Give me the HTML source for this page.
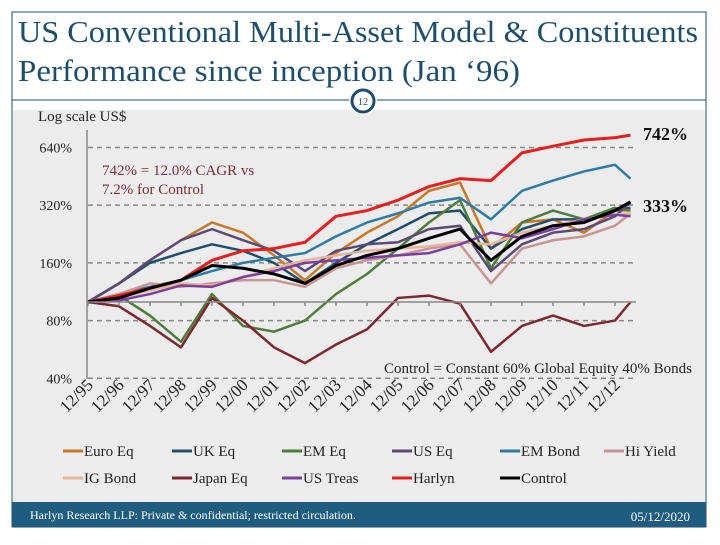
<!DOCTYPE html>
<html><head><meta charset="utf-8"><style>
body{margin:0;background:#fff;width:720px;height:540px;overflow:hidden;font-family:"Liberation Serif",serif}
</style></head><body>
<svg id="c" width="720" height="540" xmlns="http://www.w3.org/2000/svg">
<rect x="12" y="12" width="694" height="515" fill="#fff" stroke="#1F4E6B" stroke-width="1"/>
<text x="18" y="42" font-size="31" textLength="680" lengthAdjust="spacingAndGlyphs" fill="#1F4E6B">US Conventional Multi-Asset Model &amp; Constituents</text>
<text x="18" y="81" font-size="31" textLength="502" lengthAdjust="spacingAndGlyphs" fill="#1F4E6B">Performance since inception (Jan ‘96)</text>
<rect x="13" y="110" width="692" height="392" fill="#ECECEC"/>
<line x1="12" y1="100" x2="706" y2="100" stroke="#1F4E6B" stroke-width="1"/>
<circle cx="363" cy="101" r="14" fill="#fff"/>
<circle cx="363" cy="101" r="11" fill="#fff" stroke="#1F4E6B" stroke-width="3"/>
<text x="363" y="105" font-size="10" text-anchor="middle" fill="#1F4E6B">12</text>
<text x="38" y="121" font-size="15" fill="#222">Log scale US$</text>
<text x="102" y="175" font-size="15" fill="#7B2C3A">742% = 12.0% CAGR vs</text>
<text x="102" y="194" font-size="15" fill="#7B2C3A">7.2% for Control</text>
<text x="692" y="373" font-size="15" text-anchor="end" fill="#222">Control = Constant 60% Global Equity 40% Bonds</text>
<text x="643" y="140" font-size="18" font-weight="bold" fill="#111">742%</text>
<text x="643" y="212" font-size="18" font-weight="bold" fill="#111">333%</text>
<g id="grid"></g><g id="series"></g><g id="axis"></g><g id="legend"></g>
<rect x="12" y="502" width="694" height="25" fill="#1F5C80"/>
<text x="30" y="519" font-size="12" fill="#fff">Harlyn Research LLP: Private &amp; confidential; restricted circulation.</text>
<text x="690" y="521" font-size="13" text-anchor="end" fill="#fff">05/12/2020</text>
</svg>
<script>
const years=[0,1,2,3,4,5,6,7,8,9,10,11,12,13,14,15,16,17,17.5];
const tickLabels=["12/95","12/96","12/97","12/98","12/99","12/00","12/01","12/02","12/03","12/04","12/05","12/06","12/07","12/08","12/09","12/10","12/11","12/12"];
const yTicks=[40,80,160,320,640];
const seriesNames=["Euro Eq","UK Eq","EM Eq","US Eq","EM Bond","Hi Yield","IG Bond","Japan Eq","US Treas","Harlyn","Control"];
const seriesColors=["#C8782A","#1F4E6B","#4E7C3A","#5A4A74","#2E7BA6","#C89494","#E8B49A","#7F2632","#7A3FA0","#E81E1E","#000000"];
const euroEq=[100,125,165,210,260,230,175,130,180,230,280,380,420,190,260,270,230,300,300];
const ukEq=[100,125,160,180,200,185,160,125,160,200,240,290,300,190,240,270,270,300,310];
const emEq=[100,108,85,62,110,75,70,80,110,140,190,260,340,150,260,300,270,310,300];
const usEq=[100,125,165,210,240,210,185,145,185,200,205,240,250,145,200,230,240,280,330];
const emBond=[100,110,120,130,145,160,170,180,220,260,290,330,350,270,380,430,480,520,440];
const hiYield=[100,110,125,120,125,130,130,120,150,165,175,190,200,125,190,210,220,250,290];
const igBond=[100,105,115,125,122,135,150,165,175,185,190,195,205,200,230,250,270,285,290];
const japanEq=[100,95,75,58,105,80,58,48,60,72,105,108,98,55,75,85,75,80,100];
const usTreas=[100,102,110,122,120,135,145,160,165,170,175,180,200,230,215,240,270,285,280];
const harlyn=[100,108,118,130,165,185,190,205,280,300,340,400,440,430,600,650,700,720,742];
const control=[100,105,118,130,155,150,140,125,155,175,190,215,240,165,220,250,260,300,333];
const allSeries=[euroEq,ukEq,emEq,usEq,emBond,hiYield,igBond,japanEq,usTreas,harlyn,control];
const NS="http://www.w3.org/2000/svg";
const x=t=>88+31*t;
const y=v=>302-57.7*Math.log2(v/100);
function mk(tag,attrs,parent){const e=document.createElementNS(NS,tag);for(const k in attrs)e.setAttribute(k,attrs[k]);parent.appendChild(e);return e;}
const grid=document.getElementById('grid'),axis=document.getElementById('axis'),ser=document.getElementById('series'),leg=document.getElementById('legend');
yTicks.forEach(v=>{
 const l=mk('line',{x1:88,x2:636,y1:y(v),y2:y(v),stroke:'#888','stroke-width':1.5,'stroke-dasharray':'5,4'},grid);
 
 
 const t=mk('text',{x:72,y:y(v)+5,'font-size':14,'text-anchor':'end',fill:'#222'},axis);
 t.textContent=v+'%';
 
 
});
const yl=mk('line',{x1:87,x2:87,y1:130,y2:379,stroke:'#888','stroke-width':1.5},axis);


const bl=mk('line',{x1:87,x2:636,y1:y(100),y2:y(100),stroke:'#888','stroke-width':1.5},axis);


tickLabels.forEach((s,i)=>{
 const tk=mk('line',{x1:x(i),x2:x(i),y1:y(100),y2:y(100)+4,stroke:'#888','stroke-width':1.5},axis);
 
 
 const tx=x(i)+6,ty=386;
 const t=mk('text',{x:tx,y:ty,'font-size':17,'text-anchor':'end',fill:'#222',transform:`rotate(-45 ${tx} ${ty})`},axis);
 t.textContent=s;
 
 
});
allSeries.forEach((d,k)=>{
 const p=mk('polyline',{points:d.map((v,i)=>x(years[i])+','+y(v)).join(' '),fill:'none',stroke:seriesColors[k],'stroke-width':k>=9?3:2.5,'stroke-linejoin':'round'},ser);
 
 
});
const colX=[63,172,282,392,500,604];
seriesNames.forEach((n,k)=>{
 const cx=colX[k%6],cy=k<6?451:478;
 const g=mk('g',{},leg);
 
 
 mk('line',{x1:cx,x2:cx+20,y1:cy,y2:cy,stroke:seriesColors[k],'stroke-width':3},g);
 const t=mk('text',{x:cx+21,y:cy+5,'font-size':15,fill:'#222'},g);
 t.textContent=n;
});
</script>
</body></html>
